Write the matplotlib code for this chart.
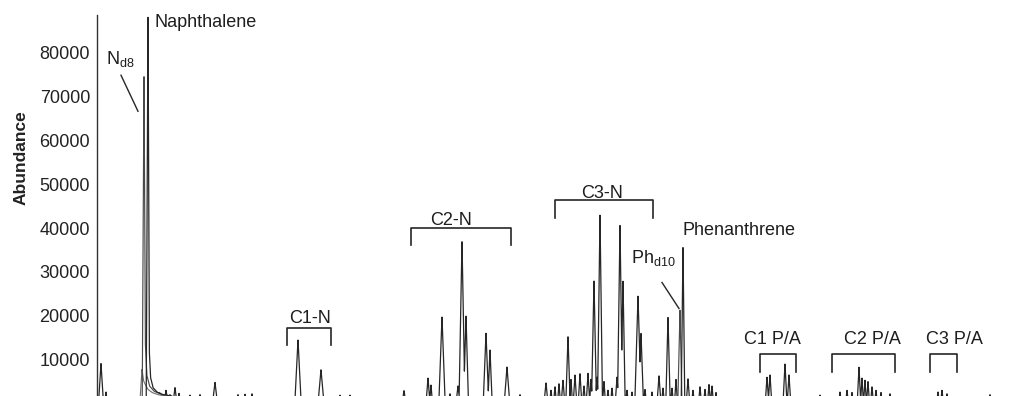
import numpy as np
import matplotlib
matplotlib.use("Agg")
import matplotlib.pyplot as plt

plt.rcParams['font.family'] = ['Liberation Sans', 'DejaVu Sans']
plt.rcParams['mathtext.fontset'] = 'custom'
plt.rcParams['mathtext.rm'] = 'Liberation Sans'
plt.rcParams['mathtext.it'] = 'Liberation Sans'

# ---------------- data (retention position, abundance) ----------------
# main trace peak table
peak_rt = [101, 106, 160, 166, 170, 175, 179, 190, 200, 215, 238, 245, 252,
           298, 321, 340, 350, 404, 428, 431, 442, 450, 458, 462, 466,
           486, 490, 507, 520, 546, 551, 555, 559, 563, 568, 571, 575,
           580, 584, 588, 591, 594, 597, 600, 604, 608, 612, 617, 620,
           623, 627, 632, 638, 641, 645, 652, 659, 663, 668, 672, 676,
           683, 688, 693, 700, 705, 709, 712, 716, 767, 770, 785, 789,
           820, 840, 847, 852, 859, 862, 865, 868, 872, 876, 881, 890,
           938, 942, 947, 990]
peak_height = [9100, 2600, 2400, 3000, 2000, 3600, 2300, 1900, 2000, 4800, 2000, 2100, 2200,
               14500, 7700, 1900, 1900, 2900, 5800, 4200, 19700, 2200, 4000, 37000, 20000,
               16000, 12200, 8300, 2000, 4700, 3000, 3800, 4500, 5300, 15200, 5500, 6500,
               6800, 4000, 6900, 5500, 28000, 6000, 43000, 5000, 3000, 3500, 6000, 40700,
               27900, 3000, 2600, 24500, 16000, 3200, 2600, 6300, 3500, 19700, 3500, 5500,
               35700, 5600, 3000, 3800, 3200, 4300, 4000, 2500, 6000, 6500, 9000, 6500,
               1900, 2600, 3000, 2500, 8300, 5800, 5300, 5000, 3800, 3000, 2500, 2200,
               2600, 3000, 2200, 2000]
peak_width = [2.5, 1.5, 2, 2, 1.5, 2, 1.5, 1.5, 1.5, 2.5, 1.5, 1.5, 1.5,
              3.2, 3, 1.5, 1.5, 2, 2, 1.5, 3.2, 1.5, 2, 3, 2.5,
              2.8, 2.2, 2.8, 1.5, 2, 1.5, 1.5, 1.5, 1.8, 2.2, 1.5, 1.8,
              1.8, 1.5, 1.8, 1.5, 2.5, 1.5, 2.5, 1.5, 1.5, 1.5, 1.8, 2.5,
              2.2, 1.5, 1.5, 3.2, 2.5, 1.5, 1.5, 2, 1.5, 2.2, 1.5, 1.5,
              1.8, 1.8, 1.5, 1.5, 1.5, 1.5, 1.5, 1.5, 1.8, 1.8, 2, 1.8,
              1.5, 1.5, 1.5, 1.5, 1.8, 1.5, 1.5, 1.5, 1.5, 1.5, 1.5, 1.5,
              1.5, 1.5, 1.5, 1.5]

# naphthalene profile (main trace) with tailing
naph_rt = [146.2, 148.0, 149.3, 150.5, 153, 157, 163, 172]
naph_abund = [0, 88400, 12000, 6000, 3600, 2600, 2000, 1700]

# deuterated standards trace (N-d8, Ph-d10)
std_rt = [142.2, 144.0, 145.3, 146.8, 149.5, 154, 161, 170, 677.8, 680.0, 682.0]
std_abund = [0, 74900, 14000, 6500, 4000, 2800, 2100, 1700, 0, 21300, 0]

# minor co-eluting trace near naphthalene
minor_rt = [139.8, 142.0, 143.5, 145.5, 148, 152, 158, 166]
minor_abund = [0, 7800, 5200, 4200, 3200, 2500, 2000, 1700]

# compound-group brackets
group_names = ['C1-N', 'C2-N', 'C3-N', 'C1 P/A', 'C2 P/A', 'C3 P/A']
group_start = [287, 411, 555, 760, 832, 930]
group_end = [331, 511, 653, 796, 895, 957]
group_top = [17310, 39920, 46310, 11370, 11370, 11370]
group_leg = [13430, 36040, 42200, 7260, 7260, 7260]
group_label_x = [310, 451, 602, 772, 872, 954]
group_label_y = [18340, 40720, 46880, 13540, 13540, 13540]

y_ticks = [10000, 20000, 30000, 40000, 50000, 60000, 70000, 80000]

# ---------------- figure ----------------
fig = plt.figure(figsize=(10.16, 3.96), dpi=100)
ax = fig.add_axes([97 / 1016, 0, 1 - 97 / 1016, 1 - 15 / 396])

grid = np.linspace(97, 1016, 40000)
main = np.zeros_like(grid)
for rt, h, w in zip(peak_rt, peak_height, peak_width):
    main = np.maximum(main, np.interp(grid, [rt - w, rt, rt + w], [0, h, 0], left=0, right=0))
main = np.maximum(main, np.interp(grid, naph_rt, naph_abund, left=0, right=0))

std = np.interp(grid, std_rt[:8], std_abund[:8], left=0, right=0)
std = np.maximum(std, np.interp(grid, std_rt[8:], std_abund[8:], left=0, right=0))
minor = np.interp(grid, minor_rt, minor_abund, left=0, right=0)

ax.plot(grid, minor, color='#6e6e6e', lw=0.8)
ax.plot(grid, std, color='#4a4a4a', lw=0.85)
ax.plot(grid, main, color='#262626', lw=0.9)

ax.set_xlim(97, 1016)
ax.set_ylim(1700, 88600)

for s in ['top', 'right', 'bottom']:
    ax.spines[s].set_visible(False)
ax.spines['left'].set_color('#333333')
ax.spines['left'].set_linewidth(1.0)
ax.set_xticks([])
ax.set_yticks(y_ticks)
ax.set_yticklabels([str(v) for v in y_ticks])
ax.tick_params(axis='y', length=0, pad=5, labelsize=13, labelcolor='#222222')
ax.set_ylabel('Abundance', fontsize=12.5, fontweight='bold', color='#222222')
ax.yaxis.set_label_coords(-0.075, 0.625)

txt = dict(fontsize=13, color='#1e1e1e', clip_on=False)

# group brackets
for name, x0, x1, top, leg, lx, ly in zip(group_names, group_start, group_end,
                                           group_top, group_leg, group_label_x, group_label_y):
    ax.plot([x0, x0, x1, x1], [leg, top, top, leg], color='#262626', lw=1.2)
    ax.text(lx, ly, name, ha='center', va='baseline', **txt)

# compound labels
ax.text(154, 85810, 'Naphthalene', ha='left', va='baseline', **txt)
ax.text(106, 77360, r'N$_{\mathregular{d8}}$', ha='left', va='baseline', **txt)
ax.plot([121, 138], [74860, 66640], color='#262626', lw=1.0)
ax.text(683, 38430, 'Phenanthrene', ha='left', va='baseline', **txt)
ax.text(631, 31930, r'Ph$_{\mathregular{d10}}$', ha='left', va='baseline', **txt)
ax.plot([662, 679], [27590, 21650], color='#262626', lw=1.0)

fig.savefig('out.png', dpi=100)
